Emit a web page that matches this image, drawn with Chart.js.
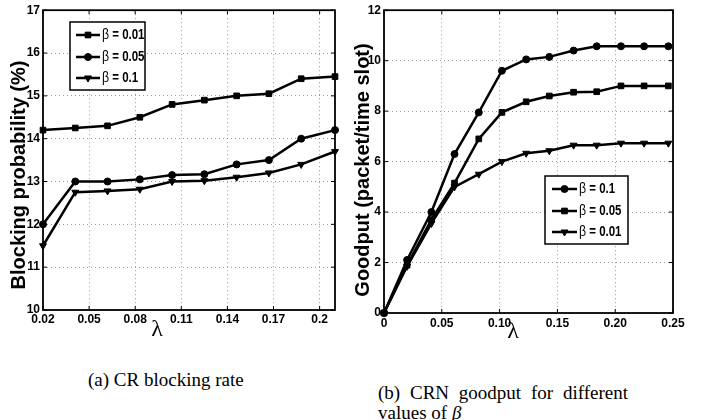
<!DOCTYPE html>
<html>
<head>
<meta charset="utf-8">
<script src="https://cdn.jsdelivr.net/npm/chart.js@4"></script>
<style>
  html, body { margin: 0; padding: 0; background: #fff; }
  body { width: 712px; height: 420px; position: relative; overflow: hidden; }
  #wrapA { position: absolute; left: 0; top: 0; }
  #wrapB { position: absolute; left: 350px; top: 0; }
  .caption { position: absolute; font-family: "Liberation Serif", "Times New Roman", serif; font-size: 19px; color: #000; }
  #capA { left: 88px; top: 369px; }
  #capB { left: 378px; top: 383px; width: 250px; line-height: 20px; text-align: justify; }
  #capB i { font-family: "Liberation Serif", serif; }
</style>
</head>
<body>
<div id="wrapA"><canvas id="chartA" width="350" height="350"></canvas></div>
<div id="wrapB"><canvas id="chartB" width="362" height="350"></canvas></div>
<div class="caption" id="capA">(a) CR blocking rate</div>
<div class="caption" id="capB">(b) CRN goodput for different values of <i>β</i></div>

<script>
// (a) blocking probability vs lambda
const lambdaA = [0.02, 0.041, 0.062, 0.083, 0.104, 0.125, 0.146, 0.167, 0.188, 0.21];
const blockB001 = [14.2, 14.25, 14.3, 14.5, 14.8, 14.9, 15.0, 15.05, 15.4, 15.45];
const blockB005 = [12.0, 13.0, 13.0, 13.05, 13.15, 13.17, 13.4, 13.5, 14.0, 14.2];
const blockB01 = [11.5, 12.75, 12.78, 12.82, 13.0, 13.02, 13.1, 13.2, 13.4, 13.7];
const xTicksA = [0.02, 0.05, 0.08, 0.11, 0.14, 0.17, 0.2];
const betasA = ['0.01', '0.05', '0.1'];

// (b) goodput vs lambda
const lambdaB = [0, 0.02, 0.041, 0.061, 0.082, 0.102, 0.123, 0.143, 0.164, 0.184, 0.205, 0.225, 0.246];
const goodB01 = [0, 2.1, 4.0, 6.3, 7.95, 9.6, 10.05, 10.15, 10.4, 10.57, 10.57, 10.57, 10.57];
const goodB005 = [0, 1.9, 3.7, 5.15, 6.9, 7.95, 8.37, 8.6, 8.75, 8.77, 9.0, 9.0, 9.0];
const goodB001 = [0, 1.85, 3.55, 5.0, 5.5, 6.0, 6.33, 6.43, 6.65, 6.65, 6.73, 6.73, 6.73];
const betasB = ['0.1', '0.05', '0.01'];

const sans = '"Liberation Sans", Arial, sans-serif';
const tickFont = { family: sans, size: 12, weight: 'bold' };

function pairs(xs, ys) {
  return xs.map((x, i) => ({ x: x, y: ys[i] }));
}

function series(label, xs, ys, style) {
  return {
    label: label,
    data: pairs(xs, ys),
    borderColor: '#000',
    backgroundColor: '#000',
    borderWidth: 2.5,
    pointStyle: style,
    pointRotation: style === 'triangle' ? 180 : 0,
    pointRadius: style === 'circle' ? 3.5 : 4,
    pointBackgroundColor: '#000',
    pointBorderColor: '#000',
    pointBorderWidth: 1,
    tension: 0,
    clip: false
  };
}

// box round the plot with matlab style inward ticks
const framePlugin = {
  id: 'frame',
  afterDatasetsDraw(chart) {
    const { ctx, chartArea: a, scales } = chart;
    ctx.save();
    ctx.strokeStyle = '#000';
    ctx.lineWidth = 1;
    ctx.beginPath();
    scales.x.ticks.forEach(t => {
      const px = scales.x.getPixelForValue(t.value);
      ctx.moveTo(px, a.bottom); ctx.lineTo(px, a.bottom - 4);
      ctx.moveTo(px, a.top); ctx.lineTo(px, a.top + 4);
    });
    scales.y.ticks.forEach(t => {
      const py = scales.y.getPixelForValue(t.value);
      ctx.moveTo(a.left, py); ctx.lineTo(a.left + 4, py);
      ctx.moveTo(a.right, py); ctx.lineTo(a.right - 4, py);
    });
    ctx.stroke();
    ctx.lineWidth = 1.8;
    ctx.strokeRect(a.left, a.top, a.right - a.left, a.bottom - a.top);
    ctx.restore();
  }
};

// legend box drawn inside the plot
const boxLegend = {
  id: 'boxLegend',
  afterDraw(chart, args, opts) {
    const ctx = chart.ctx;
    ctx.save();
    ctx.fillStyle = '#fff';
    ctx.fillRect(opts.x, opts.y, opts.w, opts.h);
    ctx.strokeStyle = '#000';
    ctx.lineWidth = 1.5;
    ctx.strokeRect(opts.x, opts.y, opts.w, opts.h);
    chart.data.datasets.forEach((ds, i) => {
      const y = opts.rows[i];
      ctx.strokeStyle = '#000';
      ctx.fillStyle = '#000';
      ctx.lineWidth = 2.5;
      ctx.beginPath();
      ctx.moveTo(opts.lineX0, y);
      ctx.lineTo(opts.lineX1, y);
      ctx.stroke();
      ctx.lineWidth = 1;
      Chart.helpers.drawPoint(ctx, {
        pointStyle: ds.pointStyle,
        rotation: ds.pointRotation,
        radius: ds.pointRadius,
        borderWidth: 1
      }, (opts.lineX0 + opts.lineX1) / 2, y);
      // narrow look: squeeze the text sideways
      ctx.save();
      ctx.translate(opts.textX, y);
      ctx.scale(0.82, 1);
      ctx.textBaseline = 'middle';
      ctx.textAlign = 'left';
      ctx.font = '15px ' + sans;
      ctx.fillText('β', 0, 0);
      const w = ctx.measureText('β').width;
      ctx.font = 'bold 14px ' + sans;
      ctx.fillText(' = ' + opts.betas[i], w, 0);
      ctx.restore();
    });
    ctx.restore();
  }
};

// axis titles placed like the matlab figure
const axisTitles = {
  id: 'axisTitles',
  afterDraw(chart, args, opts) {
    const ctx = chart.ctx;
    ctx.save();
    ctx.fillStyle = '#000';
    ctx.textAlign = 'center';
    ctx.textBaseline = 'middle';
    ctx.font = 'bold 20px ' + sans;
    ctx.translate(opts.yX, opts.yY);
    ctx.rotate(-Math.PI / 2);
    ctx.fillText(opts.yText, 0, 0);
    ctx.restore();
    ctx.save();
    ctx.fillStyle = '#000';
    ctx.textAlign = 'center';
    ctx.textBaseline = 'middle';
    ctx.font = '24px "Liberation Serif", "Times New Roman", serif';
    ctx.fillText('λ', opts.xX, opts.xY);
    ctx.restore();
  }
};

function gridScale(extra) {
  return Object.assign({
    type: 'linear',
    grid: { color: 'rgba(0,0,0,0.4)', lineWidth: 1, drawTicks: false },
    border: { display: false, dash: [1, 3] }
  }, extra);
}

new Chart(document.getElementById('chartA').getContext('2d'), {
  type: 'line',
  data: {
    datasets: [
      series('β = 0.01', lambdaA, blockB001, 'rect'),
      series('β = 0.05', lambdaA, blockB005, 'circle'),
      series('β = 0.1', lambdaA, blockB01, 'triangle')
    ]
  },
  options: {
    responsive: false,
    animation: false,
    layout: { padding: { left: 0, right: 15, top: 8, bottom: 0 } },
    plugins: {
      legend: { display: false },
      tooltip: { enabled: false },
      boxLegend: { x: 70, y: 22, w: 75, h: 68, rows: [35, 57, 78], lineX0: 76, lineX1: 100, textX: 102, betas: betasA },
      axisTitles: { yText: 'Blocking probability (%)', yX: 19, yY: 175, xX: 157, xY: 330 }
    },
    scales: {
      x: gridScale({
        min: 0.02, max: 0.21,
        afterBuildTicks: s => { s.ticks = xTicksA.map(v => ({ value: v })); },
        afterFit: s => { s.height = 40; },
        ticks: { font: tickFont, color: '#000', padding: 2, maxRotation: 0, callback: v => String(+v.toFixed(2)) }
      }),
      y: gridScale({
        min: 10, max: 17,
        afterFit: s => { s.width = 43; },
        ticks: { font: tickFont, color: '#000', padding: 3, stepSize: 1 }
      })
    }
  },
  plugins: [framePlugin, boxLegend, axisTitles]
});

new Chart(document.getElementById('chartB').getContext('2d'), {
  type: 'line',
  data: {
    datasets: [
      series('β = 0.1', lambdaB, goodB01, 'circle'),
      series('β = 0.05', lambdaB, goodB005, 'rect'),
      series('β = 0.01', lambdaB, goodB001, 'triangle')
    ]
  },
  options: {
    responsive: false,
    animation: false,
    layout: { padding: { left: 0, right: 39, top: 8, bottom: 0 } },
    plugins: {
      legend: { display: false },
      tooltip: { enabled: false },
      boxLegend: { x: 195, y: 176, w: 83, h: 68, rows: [189, 211, 232], lineX0: 202, lineX1: 227, textX: 229, betas: betasB },
      axisTitles: { yText: 'Goodput (packet/time slot)', yX: 13, yY: 170, xX: 163, xY: 332 }
    },
    scales: {
      x: gridScale({
        min: 0, max: 0.25,
        afterFit: s => { s.height = 37; },
        ticks: { font: tickFont, color: '#000', padding: 3, maxRotation: 0, stepSize: 0.05 }
      }),
      y: gridScale({
        min: 0, max: 12,
        afterFit: s => { s.width = 34; },
        ticks: { font: tickFont, color: '#000', padding: 3, stepSize: 2 }
      })
    }
  },
  plugins: [framePlugin, boxLegend, axisTitles]
});
</script>
</body>
</html>
